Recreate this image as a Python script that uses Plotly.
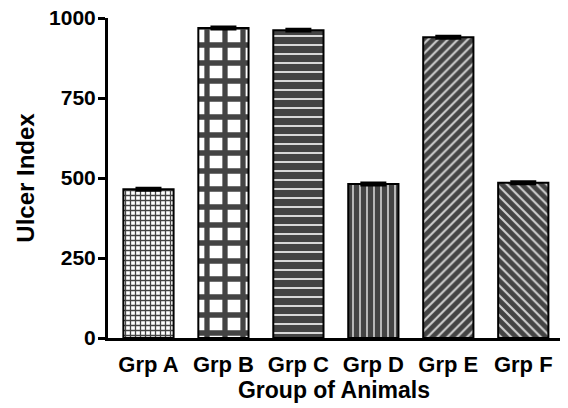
import plotly.graph_objects as go

groups = ["Grp A", "Grp B", "Grp C", "Grp D", "Grp E", "Grp F"]
ulcer_index = [465, 969, 962, 481, 940, 485]
sem = [3, 3, 3, 3, 3, 3]
y_ticks = [0, 250, 500, 750, 1000]

shapes = ["+", "+", "-", "|", "/", "\\"]
sizes = [5, 18, 9, 7, 7, 7]
solid = [0.45, 0.5, 0.8, 0.8, 0.7, 0.7]
bg = ["white", "white", "#e8e8e8", "#e8e8e8", "#d0d0d0", "#d0d0d0"]

font = "Liberation Sans, Arial, sans-serif"

fig = go.Figure()
fig.add_trace(go.Bar(
    x=groups, y=ulcer_index,
    width=0.67,
    marker=dict(
        color=bg,
        line=dict(color="black", width=2),
        pattern=dict(shape=shapes, size=sizes, solidity=solid,
                     fgcolor="black", fgopacity=1, bgcolor=bg, fillmode="overlay"),
    ),
    error_y=dict(type="data", array=sem, visible=True, color="black",
                 thickness=3, width=13),
))

fig.update_layout(
    width=568, height=408,
    margin=dict(l=108, r=8, t=18, b=70),
    plot_bgcolor="white", paper_bgcolor="white",
    showlegend=False,
    font=dict(family=font, size=20, color="black"),
)
fig.update_xaxes(
    range=[-0.54, 5.49],
    showline=True, linecolor="black", linewidth=3,
    ticks="", showgrid=False, automargin=False,
    ticklabelstandoff=5,
    tickfont=dict(family=font, size=22, color="black", weight="bold"),
    title=dict(text="<b>Group of Animals</b>", font=dict(family=font, size=23), standoff=4),
)
fig.update_yaxes(
    range=[0, 1000],
    tickvals=y_ticks,
    showline=True, linecolor="black", linewidth=3,
    ticks="outside", ticklen=7, tickwidth=3, tickcolor="black",
    showgrid=False, zeroline=False, automargin=False,
    ticklabelstandoff=-2,
    tickfont=dict(family=font, size=21, color="black", weight="bold"),
    title=dict(text="<b>Ulcer Index</b>", font=dict(family=font, size=24), standoff=8),
)

fig.write_html("out.html", config={"displayModeBar": False},
               post_script="document.body.style.margin='0';")
